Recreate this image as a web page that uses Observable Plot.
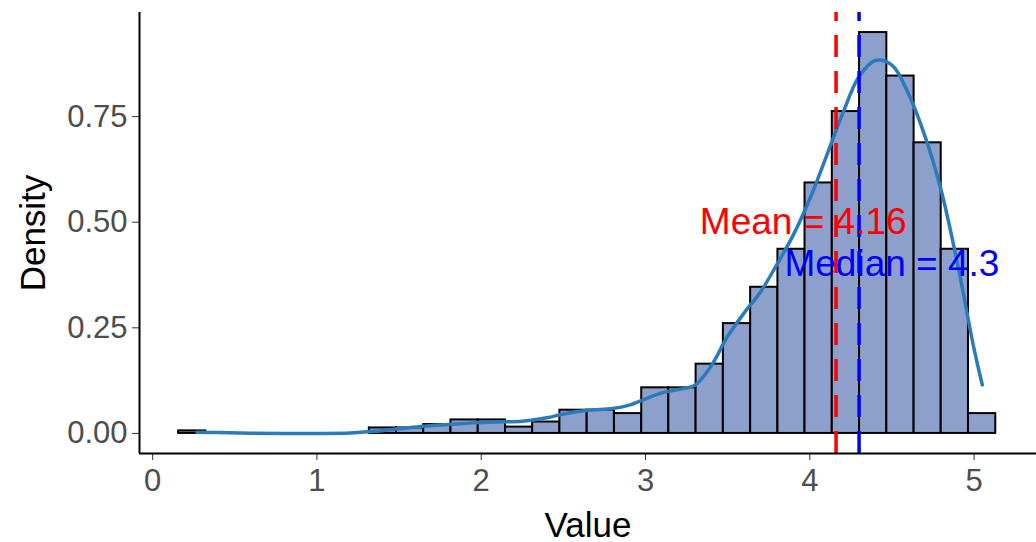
<!DOCTYPE html>
<html><head><meta charset="utf-8">
<script src="https://cdn.jsdelivr.net/npm/d3@7"></script>
<script src="https://cdn.jsdelivr.net/npm/@observablehq/plot@0.6"></script>
<style>html,body{margin:0;padding:0;background:#fff} svg{display:block}</style>
</head><body><div id="chart"></div>
<script>
// Histogram bin edges (31 edges, 30 bins) and density per bin
const binEdges = [0.158,0.324,0.490,0.655,0.821,0.987,1.153,1.319,1.484,1.650,1.816,1.982,2.148,2.313,2.479,2.645,2.811,2.977,3.142,3.308,3.474,3.640,3.806,3.971,4.137,4.303,4.469,4.635,4.800,4.966,5.132];
const binDensity = [0.006,0,0,0,0,0,0,0.013,0.013,0.021,0.032,0.032,0.015,0.027,0.055,0.055,0.047,0.108,0.108,0.164,0.260,0.346,0.436,0.593,0.762,0.949,0.846,0.688,0.436,0.047];
// Kernel density curve
const curveX = [0.27,0.4,0.6,0.8,1.0,1.2,1.35,1.5,1.65,1.8,1.95,2.1,2.25,2.4,2.5,2.65,2.8,2.9,3.0,3.1,3.2,3.3,3.4,3.5,3.6,3.7,3.8,3.9,4.0,4.1,4.2,4.3,4.4,4.5,4.6,4.7,4.8,4.9,5.0,5.05];
const curveY = [0.003,0.002,0.0005,0,0,0.001,0.005,0.011,0.017,0.021,0.025,0.027,0.029,0.037,0.046,0.055,0.059,0.067,0.082,0.096,0.104,0.114,0.16,0.23,0.285,0.335,0.40,0.47,0.555,0.655,0.757,0.845,0.883,0.872,0.805,0.705,0.575,0.40,0.20,0.115];
const meanValue = 4.16;
const medianValue = 4.3;
const labels = [
  {text: "Mean = 4.16", x: 3.96, y: 0.5, color: "#FF0000"},
  {text: "Median = 4.3", x: 4.5, y: 0.4, color: "#0000FF"}
];
const xTicks = [0,1,2,3,4,5];
const yTicks = [0,0.25,0.5,0.75];
const xDomain = [-0.08, 5.38];
const yDomain = [-0.0475, 0.9965];

const bins = binDensity.map((d,i)=>({x1: binEdges[i], x2: binEdges[i+1], y: d}));
const curve = curveX.map((x,i)=>({x, y: curveY[i]}));

const font = "'Liberation Sans', Arial, Helvetica, sans-serif";
const plot = Plot.plot({
  width: 1036, height: 542,
  marginLeft: 139, marginRight: 0, marginTop: 12, marginBottom: 89,
  style: {fontFamily: font, fontSize: "24px", background: "#fff", overflow: "visible"},
  x: {domain: xDomain},
  y: {domain: yDomain},
  marks: [
    Plot.rect(bins, {x1: "x1", x2: "x2", y1: () => 0, y2: "y", fill: "#8DA0CB", stroke: "#000", strokeWidth: 2}),
    Plot.line(curve, {x: "x", y: "y", stroke: "#2B7BBA", strokeWidth: 3.5, curve: "catmull-rom"}),
    Plot.ruleX([meanValue], {y1: yDomain[0], y2: yDomain[1], stroke: "#FF0000", strokeWidth: 3.5, strokeDasharray: "22,14"}),
    Plot.ruleX([medianValue], {y1: yDomain[0], y2: yDomain[1], stroke: "#0000FF", strokeWidth: 3.5, strokeDasharray: "22,14"}),
    Plot.text(labels, {x: "x", y: "y", text: "text", fill: d => d.color, fontSize: 37, textAnchor: "middle", lineAnchor: "middle"}),
    Plot.axisX({ticks: xTicks, tickFormat: d => String(d), tickSize: 7, tickPadding: 8, label: null, fontSize: 31, fill: "#4D4D4D", stroke: "#333"}),
    Plot.axisY({ticks: yTicks, tickFormat: d => d.toFixed(2), tickSize: 7, tickPadding: 5, label: null, fontSize: 31, fill: "#4D4D4D", stroke: "#333"}),
    Plot.ruleX([xDomain[0]], {stroke: "#000", strokeWidth: 2}),
    Plot.ruleY([yDomain[0]], {stroke: "#000", strokeWidth: 2}),
    Plot.text(["Value"], {frameAnchor: "bottom", dy: 72, fontSize: 35, fill: "#000", lineAnchor: "middle"}),
    Plot.text(["Density"], {frameAnchor: "left", dx: -106, rotate: -90, fontSize: 35, fill: "#000", textAnchor: "middle", lineAnchor: "middle"})
  ]
});
document.getElementById("chart").appendChild(plot);
</script>
</body></html>
